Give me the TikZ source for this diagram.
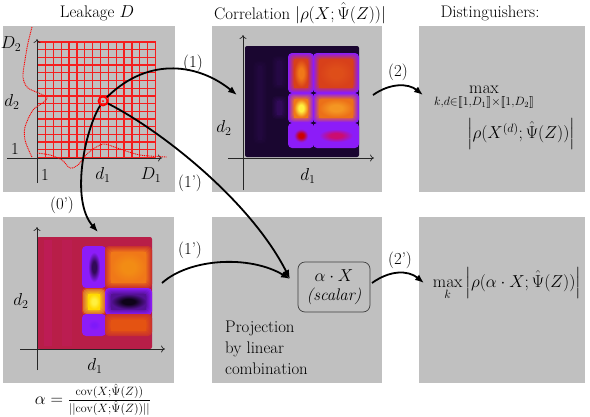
\documentclass[tikz,border=0pt]{standalone}
\usepackage{amsmath,amssymb,stmaryrd}
\usetikzlibrary{arrows.meta}
\definecolor{panel}{HTML}{C0C0C0}
\definecolor{hmdark}{HTML}{1A0630}
\definecolor{hmpurple}{HTML}{8C1CF8}
\definecolor{hmcrimson}{HTML}{B81E48}
\definecolor{gridred}{HTML}{F41E1E}
\definecolor{hmorange}{HTML}{F07818}
\definecolor{hmredor}{HTML}{D8401A}
\definecolor{hmyellow}{HTML}{FFF040}
\colorlet{hmA}{red}\colorlet{hmB}{blue}\colorlet{hmC}{yellow}
\pgfdeclareradialshading[hmA,hmC]{hmcore}{\pgfpoint{0bp}{0bp}}{color(0bp)=(hmC); color(9bp)=(hmC); color(25bp)=(hmA); color(50bp)=(hmA)}
\newcommand\hmblob[7]{%
  \colorlet{hmB}{#5}\colorlet{hmA}{#6}\colorlet{hmC}{#7}%
  \foreach \k in {0,...,6}{%
    \pgfmathsetmacro\hmpc{\k*100/6}%
    \fill[hmA!\hmpc!hmB, rounded corners=4pt] ({#1+\k*1.0},{#2+\k*1.0}) rectangle ({#3-\k*1.0},{#4-\k*1.0});}
  \shade[shading=hmcore] ({#1+6},{#2+6}) rectangle ({#3-6},{#4-6});
}
\begin{document}
\begin{tikzpicture}[x=1pt,y=-1pt,
  font=\fontsize{16.8}{20}\selectfont,
  panelbg/.style={fill=panel},
  arr/.style={line width=1.8pt,-{Latex[length=9pt,width=7pt]}},
  axisline/.style={line width=0.7pt,black!85,-{To[length=4pt,width=7pt]}},
  gridline/.style={draw=gridred,line width=1.3pt},
  reddash/.style={red,line width=0.9pt,dash pattern=on 1pt off 0.8pt},
  lbl/.style={inner sep=1pt}]
\useasboundingbox (0,0) rectangle (590,416);
% panels
\fill[panelbg] (3,26) rectangle (175,192);
\fill[panelbg] (212,26) rectangle (382,192);
\fill[panelbg] (419,26) rectangle (585,192);
\fill[panelbg] (3,217) rectangle (174,383);
\fill[panelbg] (212,217) rectangle (382,383);
\fill[panelbg] (419,217) rectangle (585,383);
% titles
\node[lbl] (t1) at (97,13) {Leakage $D$};
\node[lbl] (t2) at (300,13) {Correlation $|\rho(X;\hat{\Psi}(Z))|$};
\node[lbl] (t3) at (490,13) {Distinguishers:};
% ---- top-left: leakage grid
\foreach \i in {0,...,15} \draw[gridline] ({37.7+\i*7.85},42) -- ({37.7+\i*7.85},157.5);
\foreach \j in {0,...,15} \draw[gridline] (37.7,{42+\j*7.7}) -- (155.5,{42+\j*7.7});
\draw[axisline] (37,183) -- (37,39);
\draw[axisline] (7,158) -- (162,158);
\draw[reddash] plot[smooth] coordinates {(32,27) (28,43) (25,60) (23,77) (28,88) (47,98) (33,110) (25,127) (25,140) (30,153) (32,157)};
\draw[reddash] plot[smooth] coordinates {(37,153) (50,155) (62,160) (70,168) (78,165) (88,153) (103,144) (117,148) (140,155) (167,157)};
\node[circle,draw=red,line width=1.8pt,minimum size=9pt,inner sep=0pt] (pt) at (103,101) {};
\node[circle,fill=red,minimum size=2pt,inner sep=0pt] (ptc) at (103,101) {};
\node[lbl] (lD2) at (11,44) {$D_2$};
\node[lbl] (ld2) at (12,102) {$d_2$};
\node[lbl] (ly1) at (15,149) {1};
\node[lbl] (lx1) at (45,175) {1};
\node[lbl] (ld1) at (103,175) {$d_1$};
\node[lbl] (lD1) at (151,175) {$D_1$};
% ---- top-middle: correlation heatmap
\fill[hmdark,rounded corners=2pt] (245,46) rectangle (359,157);
\hmblob{271}{95}{288}{120}{hmdark}{hmdark!80!hmpurple}{hmdark!80!hmpurple}
\hmblob{252}{60}{268}{145}{hmdark}{hmdark!93!hmpurple}{hmdark!93!hmpurple}
\hmblob{271}{55}{288}{90}{hmdark}{hmdark!90!hmpurple}{hmdark!90!hmpurple}
\hmblob{288}{53}{314}{93}{hmpurple}{hmredor}{hmorange}
\hmblob{313}{53}{359}{93}{hmpurple}{hmredor}{hmredor!75!hmorange}
\hmblob{288}{93}{314}{123}{hmpurple}{hmorange}{hmyellow}
\hmblob{313}{93}{359}{123}{hmpurple}{hmorange!85!hmredor}{hmorange!75!hmyellow}
\hmblob{288}{123}{314}{148}{hmpurple}{hmpurple}{red!80!black}
\hmblob{313}{123}{359}{148}{hmpurple}{hmpurple}{red!55!hmpurple}
\draw[axisline] (243,190) -- (243,35);
\draw[axisline] (228,158) -- (374,158);
\node[lbl] (md2) at (224,128) {$d_2$};
\node[lbl] (md1) at (308,176) {$d_1$};
% ---- top-right: distinguisher
\node[lbl] (maxd) at (484,98) {$\displaystyle\max_{k,d\in\llbracket 1,D_1\rrbracket\times\llbracket 1,D_2\rrbracket}$};
\node[lbl] (rhod) at (521,134) {$\left|\rho(X^{(d)};\hat{\Psi}(Z))\right|$};
% ---- bottom-left: alpha heatmap
\fill[hmcrimson,rounded corners=2pt] (37,237) rectangle (152,349);
\fill[hmcrimson!93!magenta] (44,240) rectangle (52,346);
\fill[hmcrimson!95!magenta] (62,240) rectangle (72,346);
\hmblob{82}{246}{106}{288}{hmpurple}{hmpurple}{hmpurple!35!black}
\hmblob{105}{246}{152}{288}{hmcrimson!40!hmredor}{hmorange}{hmorange!85!yellow}
\hmblob{82}{288}{106}{315}{hmredor}{yellow!70!orange}{hmyellow}
\hmblob{105}{288}{152}{315}{hmpurple}{hmpurple!60!black}{black!90!hmpurple}
\hmblob{82}{314}{106}{336}{hmpurple}{hmpurple}{hmpurple!90!blue}
\hmblob{105}{314}{152}{336}{hmcrimson!40!hmredor}{hmredor!70!orange}{hmredor!70!orange}
\draw[axisline] (37,370) -- (37,227);
\draw[axisline] (20,349) -- (165,349);
\node[lbl] (bd2) at (21,301) {$d_2$};
\node[lbl] (bd1) at (95,366) {$d_1$};
\node[lbl] (alpha) at (93,400) {$\alpha=\frac{\mathrm{cov}(X;\hat{\Psi}(Z))}{||\mathrm{cov}(X;\hat{\Psi}(Z))||}$};
% ---- bottom-middle: projection
\node[draw=black!75,line width=0.7pt,rounded corners=7pt,align=center,minimum width=72pt,minimum height=50pt,inner sep=2pt,font=\fontsize{16.8}{18.5}\selectfont] (ax) at (334,287) {$\alpha\cdot X$\\\textit{(scalar)}};
\node[anchor=north west,inner sep=0pt,align=left,font=\fontsize{16.8}{21}\selectfont] (proj) at (225,321) {Projection\\by linear\\combination};
% ---- bottom-right
\node[lbl] (maxk) at (507,284) {$\displaystyle\max_{k}\left|\rho(\alpha\cdot X;\hat{\Psi}(Z))\right|$};
% ---- connectors
\coordinate (c1) at (237,95);
\coordinate (axin) at (290,279);
\coordinate (c0) at (98,232);
\coordinate (bls) at (162,283);
\coordinate (c2s) at (373,95);
\coordinate (c2e) at (423,95);
\coordinate (c3s) at (372,283);
\coordinate (c3e) at (424,283);
\draw[arr] (pt) .. controls (150,55) and (200,65) .. (c1);
\draw[arr] (pt) .. controls (160,130) and (250,200) .. (axin);
\draw[arr] (pt) .. controls (85,130) and (70,200) .. (c0);
\draw[arr] (bls) .. controls (190,258) and (250,255) .. (axin);
\draw[arr] (c2s) .. controls (390,83) and (408,83) .. (c2e);
\draw[arr] (c3s) .. controls (390,270) and (408,270) .. (c3e);
\node[lbl] (l1) at (193,63) {(1)};
\node[lbl] (l1p) at (190,183) {(1')};
\node[lbl] (l0p) at (62,205) {(0')};
\node[lbl] (l1pb) at (190,250) {(1')};
\node[lbl] (l2) at (398,72) {(2)};
\node[lbl] (l2p) at (400,260) {(2')};
\end{tikzpicture}
\end{document}
